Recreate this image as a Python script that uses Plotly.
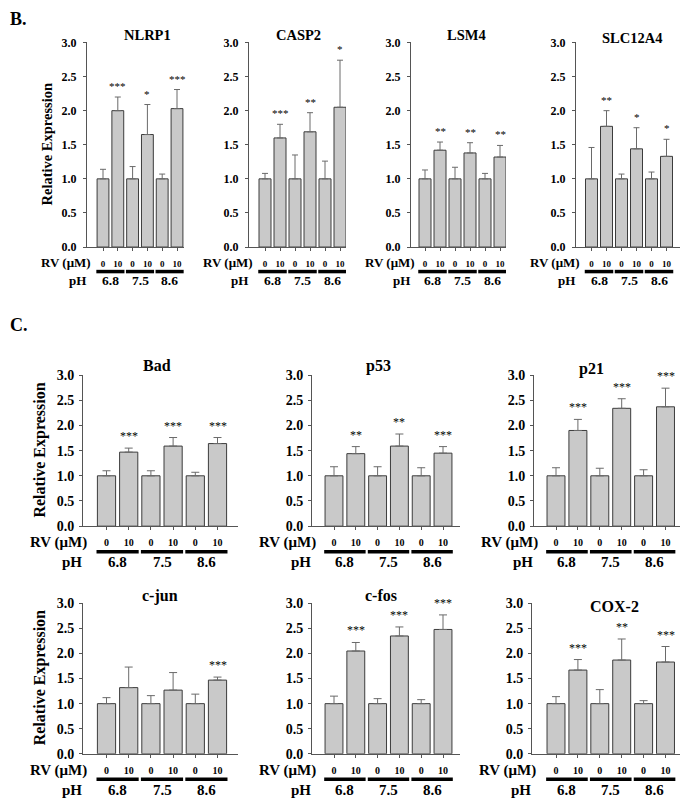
import plotly.graph_objects as go

# data
genes = ["NLRP1", "CASP2", "LSM4", "SLC12A4", "Bad", "p53", "p21", "c-jun", "c-fos", "COX-2"]
rv_ticks = ["0", "10", "0", "10", "0", "10"]
ph_values = ["6.8", "7.5", "8.6"]

means = {
    "NLRP1":   [1.0, 2.00, 1.0, 1.65, 1.0, 2.03],
    "CASP2":   [1.0, 1.60, 1.0, 1.69, 1.0, 2.05],
    "LSM4":    [1.0, 1.42, 1.0, 1.38, 1.0, 1.32],
    "SLC12A4": [1.0, 1.77, 1.0, 1.44, 1.0, 1.33],
    "Bad":     [1.0, 1.47, 1.0, 1.59, 1.0, 1.64],
    "p53":     [1.0, 1.44, 1.0, 1.59, 1.0, 1.45],
    "p21":     [1.0, 1.90, 1.0, 2.34, 1.0, 2.37],
    "c-jun":   [1.0, 1.32, 1.0, 1.27, 1.0, 1.47],
    "c-fos":   [1.0, 2.05, 1.0, 2.35, 1.0, 2.48],
    "COX-2":   [1.0, 1.67, 1.0, 1.87, 1.0, 1.83],
}
sds = {
    "NLRP1":   [0.14, 0.20, 0.18, 0.44, 0.07, 0.28],
    "CASP2":   [0.08, 0.20, 0.35, 0.28, 0.26, 0.69],
    "LSM4":    [0.13, 0.12, 0.17, 0.15, 0.08, 0.17],
    "SLC12A4": [0.46, 0.23, 0.07, 0.31, 0.10, 0.25],
    "Bad":     [0.10, 0.08, 0.10, 0.17, 0.07, 0.12],
    "p53":     [0.18, 0.14, 0.18, 0.24, 0.16, 0.13],
    "p21":     [0.16, 0.22, 0.15, 0.19, 0.12, 0.37],
    "c-jun":   [0.12, 0.41, 0.16, 0.35, 0.19, 0.06],
    "c-fos":   [0.15, 0.17, 0.10, 0.18, 0.08, 0.29],
    "COX-2":   [0.14, 0.21, 0.28, 0.42, 0.06, 0.31],
}
stars = {
    "NLRP1":   ["", "***", "", "*", "", "***"],
    "CASP2":   ["", "***", "", "**", "", "*"],
    "LSM4":    ["", "**", "", "**", "", "**"],
    "SLC12A4": ["", "**", "", "*", "", "*"],
    "Bad":     ["", "***", "", "***", "", "***"],
    "p53":     ["", "**", "", "**", "", "***"],
    "p21":     ["", "***", "", "***", "", "***"],
    "c-jun":   ["", "", "", "", "", "***"],
    "c-fos":   ["", "***", "", "***", "", "***"],
    "COX-2":   ["", "***", "", "**", "", "***"],
}

# the page body has an 8px margin, so the figure is drawn 8px in from the corner
OFF = 8
W, H = 688 - OFF, 803 - OFF
FONT = "Liberation Serif"

def px(x):
    return (x - OFF) / W

def py(y):
    return 1 - (y - OFF) / H

def label(x, y, text, size, xanchor="center", **kw):
    return dict(x=px(x), y=py(y), xref="paper", yref="paper", text=text, showarrow=False,
                xanchor=xanchor, yanchor="middle", font=dict(family=FONT, size=size, color="black"), **kw)

# pixel geometry (screen): axis left, axis right, first/last bar centre, y of 3.0, y of 0.0, panel
geom = {
    "NLRP1":   (87, 184, 103, 177, 36, 244.5, "B"),
    "CASP2":   (249, 346, 265, 340, 36, 244.5, "B"),
    "LSM4":    (411, 506, 425, 500, 36, 244.5, "B"),
    "SLC12A4": (576, 687, 591.5, 666.5, 36, 244.5, "B"),
    "Bad":     (83, 238, 106.5, 217.5, 375, 529, "C"),
    "p53":     (312, 460, 334, 443, 375, 529, "C"),
    "p21":     (534, 687, 556, 665.5, 375, 529, "C"),
    "c-jun":   (83, 238, 106.5, 217.5, 607.7, 761, "C"),
    "c-fos":   (312, 460, 334, 443, 607.7, 761, "C"),
    "COX-2":   (532, 687, 556, 665.5, 607.7, 761, "C"),
}
title_pos = {
    "NLRP1": (147, 28), "CASP2": (298, 28), "LSM4": (466, 28), "SLC12A4": (632, 31),
    "Bad": (157, 365), "p53": (379, 366), "p21": (591, 369),
    "c-jun": (160, 600), "c-fos": (381, 600), "COX-2": (614, 611),
}

fig = go.Figure()
annotations = []
shapes = []
layout = {}

for i, g in enumerate(genes):
    L, R, c0, c5, y3, y0, panel = geom[g]
    big = panel == "C"
    s = (c5 - c0) / 5
    xa = "x" if i == 0 else f"x{i+1}"
    ya = "y" if i == 0 else f"y{i+1}"
    xkey = "xaxis" if i == 0 else f"xaxis{i+1}"
    ykey = "yaxis" if i == 0 else f"yaxis{i+1}"
    x = list(range(6))

    fig.add_trace(go.Bar(
        x=x, y=means[g], width=0.8 if not big else 0.82,
        marker=dict(color="#c9c9c9", line=dict(color="#3c3c3c", width=1)),
        error_y=dict(type="data", symmetric=False, array=sds[g], arrayminus=[0] * 6,
                     color="#6a6a6a", thickness=1, width=3 if not big else 4),
        xaxis=xa, yaxis=ya, showlegend=False, cliponaxis=False,
    ))

    layout[xkey] = dict(
        domain=[px(L), min(px(R), 1)], range=[(L - c0) / s, (R - c0) / s], anchor=ya,
        tickvals=x, ticktext=rv_ticks, ticks="outside", ticklen=3, tickcolor="#555",
        showline=True, linecolor="#555", linewidth=1, showgrid=False, zeroline=False,
        tickfont=dict(family=FONT, size=10 if big else 9, color="black", weight="bold"),
        ticklabelstandoff=4 if big else 5,
    )
    layout[ykey] = dict(
        domain=[py(y0), py(y3)], range=[0, 3], anchor=xa,
        tickvals=[0, 0.5, 1, 1.5, 2, 2.5, 3], tickformat=".1f",
        ticks="outside", ticklen=3, tickcolor="#555",
        showline=True, linecolor="#555", linewidth=1, showgrid=False, zeroline=False,
        tickfont=dict(family=FONT, size=14 if big else 12, color="black", weight="bold"),
        ticklabelstandoff=2 if big else 4,
    )

    # gene title
    tx, ty = title_pos[g]
    annotations.append(label(tx, ty, f"<b>{g}</b>", 16 if big else 14.5))

    # significance stars
    for k in range(6):
        if stars[g][k]:
            annotations.append(dict(x=k, y=means[g][k] + sds[g][k], xref=xa, yref=ya,
                                    text=stars[g][k], showarrow=False, xanchor="center",
                                    yanchor="bottom", yshift=3,
                                    font=dict(family=FONT, size=12 if big else 11, color="black")))

    # RV / pH row
    if big:
        rv_y, line_y, ph_y = (y0 + 17, y0 + 26, y0 + 37)
    else:
        rv_y, line_y, ph_y = (y0 + 15.5, y0 + 25, y0 + 34)
    annotations.append(label(L + 6, rv_y, "<b>RV (μM)</b>", 15 if big else 13, xanchor="right"))
    annotations.append(label(L + 1, ph_y, "<b>pH</b>", 15 if big else 13, xanchor="right"))
    for j, ph in enumerate(ph_values):
        shapes.append(dict(type="line", xref=xa, yref="paper", x0=2 * j - 0.45, x1=2 * j + 1.45,
                           y0=py(line_y), y1=py(line_y), line=dict(color="black", width=3.5)))
        annotations.append(dict(x=2 * j + 0.5, y=py(ph_y), xref=xa, yref="paper", text=f"<b>{ph}</b>",
                                showarrow=False, xanchor="center", yanchor="middle",
                                font=dict(family=FONT, size=15 if big else 13.5, color="black")))

# y axis titles
for (yx, yc, sz) in [(47, 140, 14.5), (40, 452, 16), (40, 684, 16)]:
    annotations.append(label(yx, yc, "<b>Relative Expression</b>", sz, textangle=-90))

# panel letters
annotations.append(label(OFF, 12, "<b>B.</b>", 18, xanchor="left"))
annotations.append(label(OFF, 324, "<b>C.</b>", 18, xanchor="left"))

fig.update_layout(
    width=W, height=H, margin=dict(l=0, r=0, t=0, b=0),
    paper_bgcolor="white", plot_bgcolor="white", bargap=0.2,
    annotations=annotations, shapes=shapes, **layout,
)

fig.write_html("out.html")
